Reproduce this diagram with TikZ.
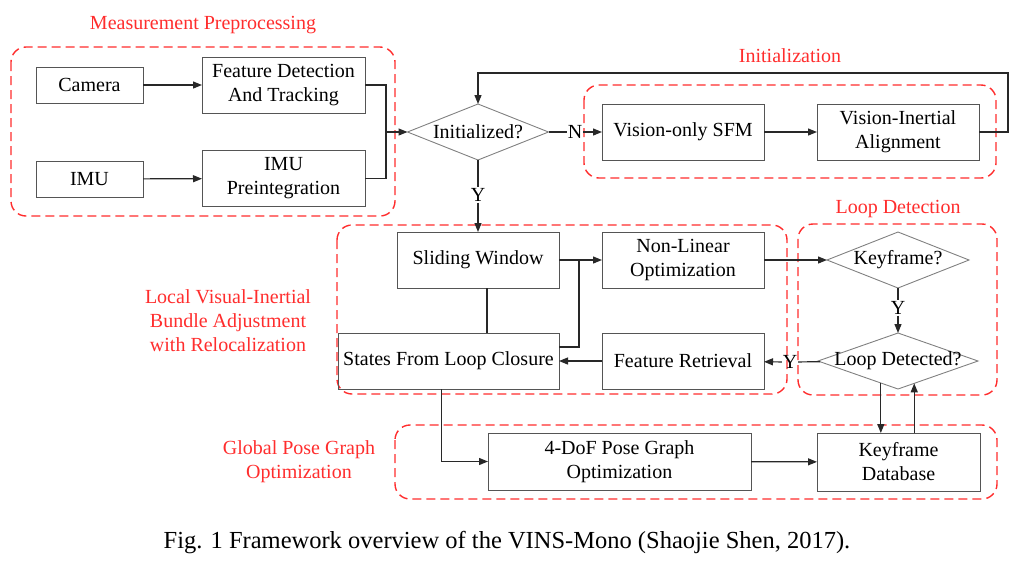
\documentclass[tikz,border=0pt]{standalone}
\usepackage{fontspec}
\setmainfont{Liberation Serif}
\usetikzlibrary{arrows.meta,shapes.geometric}
\definecolor{framered}{RGB}{255,45,45}
\definecolor{boxgray}{RGB}{85,85,85}
\definecolor{linegray}{RGB}{40,40,40}
\begin{document}
\begin{tikzpicture}[x=1pt,y=-1pt,
    every node/.style={font=\fontsize{20}{24}\selectfont,outer sep=0pt},
    block/.style={draw=boxgray,line width=0.9pt,align=center,inner sep=0pt,minimum height=56pt},
    decision/.style={draw=gray,line width=0.9pt,diamond,inner sep=0pt,minimum height=56pt},
    answer/.style={inner sep=1pt},
    group/.style={draw=framered,line width=1.4pt,dash pattern=on 9pt off 5pt,rounded corners=15pt},
    grouplabel/.style={text=framered,align=center},
    flow/.style={draw=linegray,line width=1.2pt,-{Triangle[length=9pt,width=7pt]}},
    link/.style={draw=linegray,line width=1.2pt}]
  \useasboundingbox (0,0) rectangle (1030,574);
  % dashed frames
  \draw[group] (11,47) rectangle (395,216);
  \draw[group] (584,85) rectangle (996,178);
  \draw[group] (337,225) rectangle (787,394);
  \draw[group] (798,224) rectangle (997,395);
  \draw[group] (395,425) rectangle (997,499);
  \node[grouplabel] (lblmeas) at (203,25) {Measurement Preprocessing};
  \node[grouplabel] (lblinit) at (790,56) {Initialization};
  \node[grouplabel] (lblloop) at (898,209) {Loop Detection};
  \node[grouplabel] (lbllocal) at (228,321) {Local Visual-Inertial\\Bundle Adjustment\\with Relocalization};
  \node[grouplabel] (lblglobal) at (299,462) {Global Pose Graph\\Optimization};
  % blocks
  \node[block,minimum width=107pt,minimum height=36pt] (camera) at (89.5,85) {Camera};
  \node[block,minimum width=163pt] (feat) at (283.5,85) {Feature Detection\\And Tracking};
  \node[block,minimum width=107pt,minimum height=36pt] (imu) at (89.5,179) {IMU};
  \node[block,minimum width=163pt] (preint) at (283.5,178.5) {IMU\\Preintegration};
  \node[decision,minimum width=141pt,label=center:{Initialized?}] (init) at (478,132) {};
  \node[block,minimum width=162pt] (sfm) at (683,132) {Vision-only SFM};
  \node[block,minimum width=162pt] (align) at (898,132) {Vision-Inertial\\Alignment};
  \node[block,minimum width=162pt] (slide) at (478,260) {Sliding Window};
  \node[block,minimum width=162pt] (nlo) at (683,260) {Non-Linear\\Optimization};
  \node[block,minimum width=221pt] (states) at (448.5,361) {States From Loop Closure};
  \node[block,minimum width=162pt] (fr) at (683,361) {Feature Retrieval};
  \node[decision,minimum width=142pt,label=center:{Keyframe?}] (kf) at (898,260) {};
  \node[decision,minimum width=160pt,label=center:{Loop Detected?}] (loopdet) at (898,361) {};
  \node[block,minimum width=263pt,minimum height=57pt] (pgo) at (619.5,461.5) {4-DoF Pose Graph\\Optimization};
  \node[block,minimum width=163pt,minimum height=58pt] (db) at (898.5,462) {Keyframe\\Database};
  % answers and bends
  \node[answer] (n1) at (575,132) {N};
  \node[answer] (y1) at (478,195) {Y};
  \node[answer] (y2) at (898,308) {Y};
  \node[answer] (y3) at (790,362) {Y};
  \coordinate (merge) at (386,132);
  \coordinate (looptop) at (1008,73);
  \coordinate (join) at (579,260);
  % connectors
  \draw[flow] (camera) -- (feat);
  \draw[flow] (imu) -- (preint);
  \draw[link] (feat) -| (merge);
  \draw[link] (preint) -| (merge);
  \draw[flow] (merge) -- (init);
  \draw[link] (init) -- (n1);
  \draw[flow] (n1) -- (sfm);
  \draw[flow] (sfm) -- (align);
  \draw[flow] (align) -| (looptop) -| (init);
  \draw[link] (init) -- (y1);
  \draw[flow] (y1) -- (slide);
  \draw[flow] (slide) -- (nlo);
  \draw[link] ([yshift=-14pt]states.north east) -| (join);
  \draw[link] ([xshift=9pt]slide.south) -- ([xshift=9pt]slide.south |- states.north);
  \draw[flow] (fr) -- (states);
  \draw[flow] (nlo) -- (kf);
  \draw[link] (kf) -- (y2);
  \draw[flow] (y2) -- (loopdet);
  \draw[link] (loopdet) -- (y3);
  \draw[flow] (y3) -- (fr);
  \draw[flow] (loopdet.232) -- (loopdet.232 |- db.north);
  \draw[flow] (loopdet.306 |- db.north) -- (loopdet.306);
  \draw[flow] ([xshift=-7pt]states.south) |- (pgo);
  \draw[flow] (pgo) -- (db);
  % caption
  \node[font=\fontsize{24.5}{29}\selectfont] (caption) at (507,543) {Fig. 1 Framework overview of the VINS-Mono (Shaojie Shen, 2017).};
\end{tikzpicture}
\end{document}
